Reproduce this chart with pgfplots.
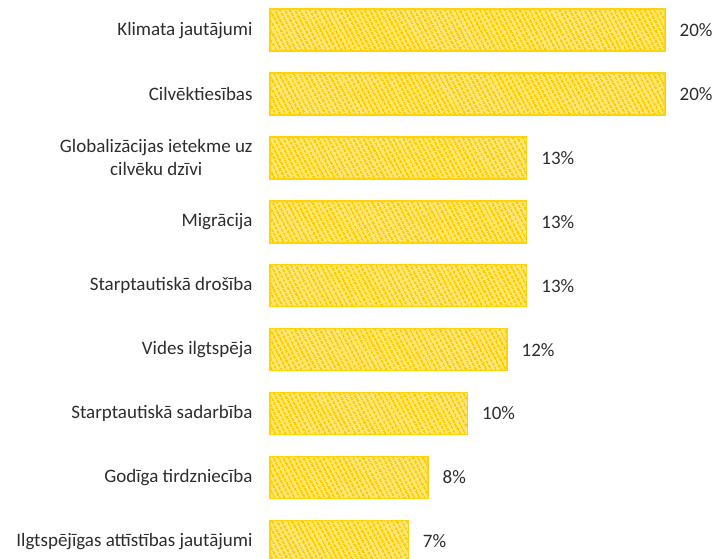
\documentclass[border=0pt]{standalone}
\usepackage{fontspec}
\setmainfont{Carlito}
\usepackage{pgfplots}
\pgfplotsset{compat=1.18}
\usetikzlibrary{patterns.meta}
\definecolor{barline}{RGB}{255,210,10}
\definecolor{barfill}{RGB}{255,232,120}
\definecolor{hatch}{RGB}{255,204,0}
\definecolor{txt}{RGB}{45,45,45}
\begin{document}
\begin{tikzpicture}[x=1pt,y=1pt]
\begin{axis}[
 at={(270pt,0pt)}, anchor=south west,
 scale only axis, width=395pt, height=558pt,
 xmin=0, xmax=20, ymin=-0.47, ymax=8.26, y dir=reverse,
 xbar, bar width=42pt, clip=false,
 axis line style={draw=none}, tick style={draw=none},
 xtick=\empty, ytick={0,...,8},
 yticklabels={Klimata jautājumi, Cilvēktiesības, {Globalizācijas ietekme uz\\cilvēku dzīvi}, Migrācija, Starptautiskā drošība, Vides ilgtspēja, Starptautiskā sadarbība, Godīga tirdzniecība, Ilgtspējīgas attīstības jautājumi},
 yticklabel style={font=\fontsize{19}{23}\selectfont, text=txt, align=center, inner sep=0pt, xshift=-13pt},
 /pgf/number format/assume math mode=true,
 point meta=x,
 nodes near coords={\pgfmathprintnumber{\pgfplotspointmeta}\%},
 every node near coord/.append style={font=\fontsize{19}{23}\selectfont, text=txt, inner sep=0pt, xshift=14pt},
 ]
\addplot[draw=barline, line width=1.4pt, fill=barfill, postaction={pattern={Lines[angle=-62,distance=4pt,line width=2.2pt]}, pattern color=hatch}] coordinates {(20,0) (20,1) (13,2) (13,3) (13,4) (12,5) (10,6) (8,7) (7,8)};
\end{axis}
\pgfresetboundingbox
\useasboundingbox (0,0) rectangle (715pt,558pt);
\end{tikzpicture}
\end{document}
